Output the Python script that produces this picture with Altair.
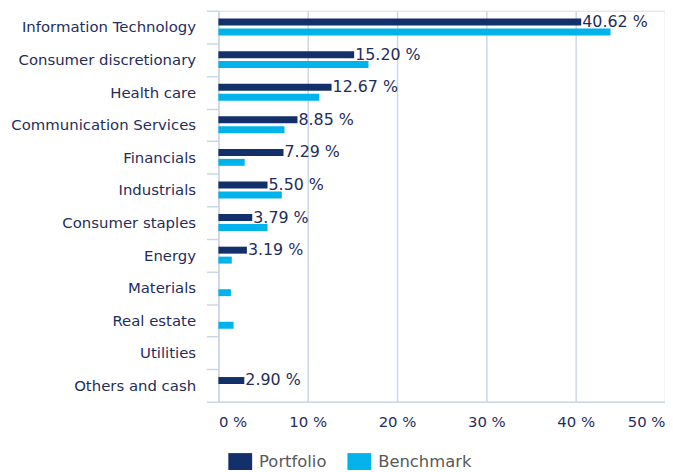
import altair as alt
import pandas as pd

categories = ["Information Technology", "Consumer discretionary", "Health care",
              "Communication Services", "Financials", "Industrials", "Consumer staples",
              "Energy", "Materials", "Real estate", "Utilities", "Others and cash"]
portfolio = [40.62, 15.20, 12.67, 8.85, 7.29, 5.50, 3.79, 3.19, 0, 0, 0, 2.90]
benchmark = [43.9, 16.8, 11.3, 7.4, 2.95, 7.1, 5.5, 1.5, 1.4, 1.7, 0, 0]
series = ["Portfolio", "Benchmark"]
colors = ["#14306b", "#00b4eb"]

rows = []
for c, p, b in zip(categories, portfolio, benchmark):
    rows.append({"cat": c, "series": "Portfolio", "val": p,
                 "label": f"{p:.2f} %" if p > 0 else ""})
    rows.append({"cat": c, "series": "Benchmark", "val": b, "label": ""})
df = pd.DataFrame(rows)

FONT = "DejaVu Sans"
TXT = "#1f2d5c"
GRID = "#cdd7e4"

base = alt.Chart(df)

y = alt.Y("cat:N", sort=categories, title=None,
          scale=alt.Scale(paddingInner=0, paddingOuter=0),
          axis=alt.Axis(tickBand="extent", tickSize=12, tickColor=GRID, tickWidth=1.5,
                        domainColor=GRID, domainWidth=1.5, labelPadding=11, labelFontSize=15,
                        labelLimit=300,
                        labelColor=TXT, labelFont=FONT, grid=False))
yoff = alt.YOffset("series:N", sort=series,
                   scale=alt.Scale(paddingInner=0.3, paddingOuter=0.79))

bars = base.mark_bar().encode(
    x=alt.X("val:Q", title=None,
            scale=alt.Scale(domain=[0, 50], nice=False),
            axis=alt.Axis(values=[0, 10, 20, 30, 40, 50], labelExpr="datum.value + ' %'",
                          ticks=False, grid=True, gridColor=GRID, gridWidth=1.5,
                          domainColor=GRID, domainWidth=1.5, labelPadding=13,
                          labelFontSize=15, labelColor=TXT, labelFont=FONT)),
    y=y,
    yOffset=yoff,
    color=alt.Color("series:N", sort=series,
                    scale=alt.Scale(domain=series, range=colors),
                    legend=alt.Legend(title=None, orient="none", direction="horizontal",
                                      legendX=10, legendY=442,
                                      symbolType="M-1,-0.71L1,-0.71L1,0.71L-1,0.71Z",
                                      symbolSize=576, symbolStrokeWidth=0,
                                      labelFontSize=16.5, labelColor="#595959",
                                      labelFont=FONT, columnPadding=21, labelOffset=7)),
)

text = base.transform_filter("datum.series == 'Portfolio'").mark_text(
    align="left", baseline="middle", dx=1, fontSize=16, font=FONT, color=TXT
).encode(
    x="val:Q",
    y=alt.Y("cat:N", sort=categories),
    yOffset=alt.YOffset("series:N", sort=series),
    text="label:N",
)

chart = alt.layer(bars, text).properties(
    width=450, height=394,
    padding={"top": -6, "left": 2, "right": 0, "bottom": 0},
).configure_view(stroke=None).configure(background="white")

chart.save("out.html", embed_options={"renderer": "svg", "actions": False})
